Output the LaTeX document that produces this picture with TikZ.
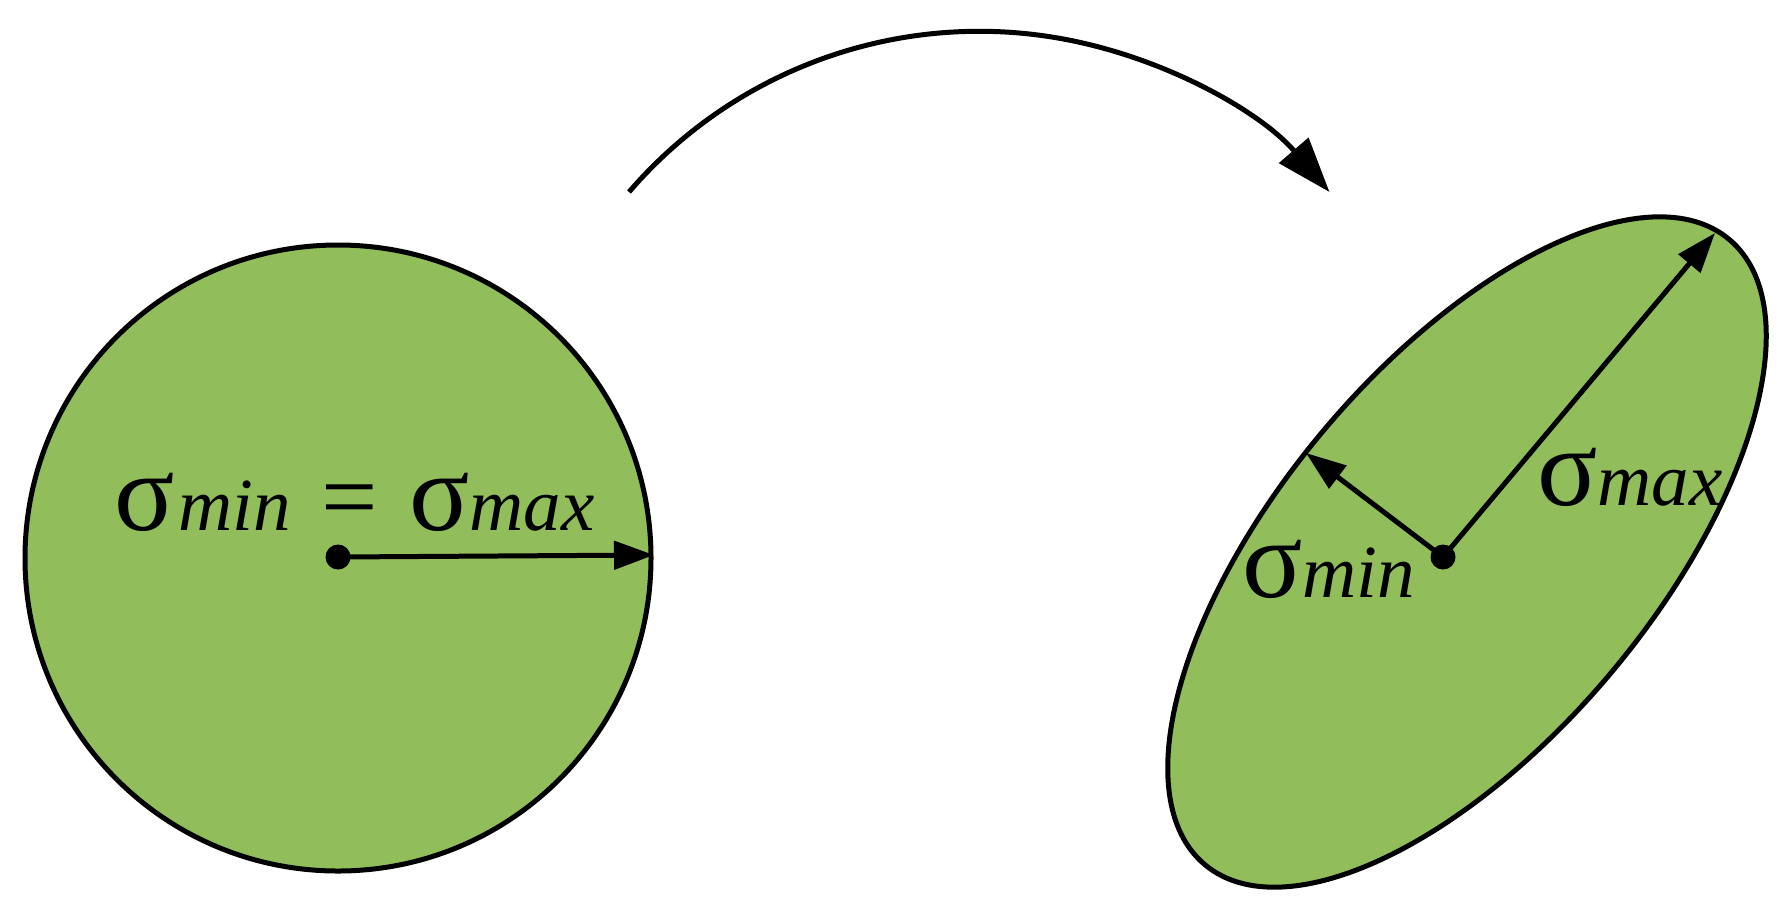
\documentclass[tikz,border=0pt]{standalone}
\usepackage{fontspec}
\setmainfont{Liberation Serif}
\usetikzlibrary{arrows.meta}
\definecolor{leaf}{RGB}{146,189,91}
\newcommand\sgm{{\fontsize{112pt}{112pt}\selectfont σ}}
\newcommand\eqsgn{{\fontsize{100pt}{100pt}\selectfont =}}
\newcommand\lowtxt[1]{{\fontsize{75pt}{75pt}\selectfont\itshape #1}}
\begin{document}
\begin{tikzpicture}[x=1pt,y=-1pt,
  blob/.style={fill=leaf, draw=black, line width=5pt},
  vec/.style={line width=5pt, -{Triangle[length=40pt,width=28pt]}},
  bigvec/.style={line width=5pt, -{Triangle[length=55pt,width=38pt]}},
  dotnode/.style={circle, fill=black, inner sep=0pt, minimum size=25pt},
  lbl/.style={anchor=base west, inner sep=0pt}]
\useasboundingbox (0,0) rectangle (1784,914);
% shapes
\coordinate (circC) at (338,558);
\coordinate (ellC) at (1467,552);
\filldraw[blob] (circC) circle[radius=313];
\filldraw[blob, rotate around={50:(ellC)}] (ellC) ellipse[x radius=408, y radius=188];
% left labels and vector
\node[lbl] (labL) at (114,530) {\sgm\hspace{4pt}\lowtxt{min}\hspace{30pt}\eqsgn\hspace{32pt}\sgm\lowtxt{max}};
\node[dotnode] (dotL) at (338,557) {};
\coordinate (tipL) at (654,555);
\draw[vec] (dotL.center) -- (tipL);
% right labels and vectors
\node[dotnode] (dotR) at (1443,557) {};
\coordinate (tipMax) at (1715,233);
\coordinate (tipMin) at (1306,453);
\draw[vec] (dotR.center) -- (tipMax);
\draw[vec] (dotR.center) -- (tipMin);
\node[lbl] (labMax) at (1537,505) {\sgm\lowtxt{max}};
\node[lbl] (labMin) at (1242,597) {\sgm\lowtxt{min}};
% curved arrow
\coordinate (arcS) at (629,192);
\draw[bigvec] (arcS) arc[start angle=-139.3, end angle=-40.7, radius=462];
\end{tikzpicture}
\end{document}
